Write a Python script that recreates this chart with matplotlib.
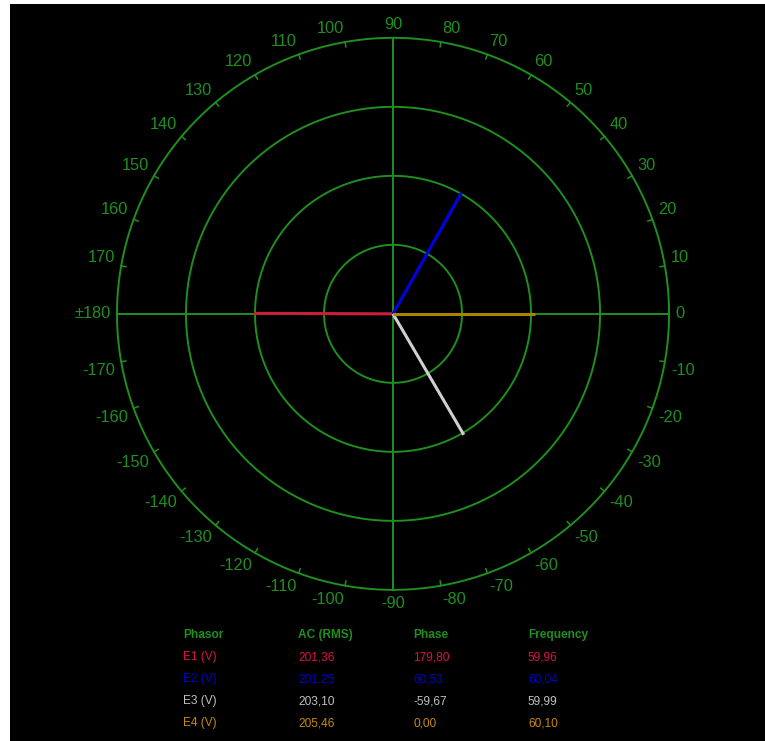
import matplotlib.pyplot as plt
import numpy as np

plt.rcParams['font.family'] = ['Liberation Sans', 'DejaVu Sans']

# data
phasors = ['E1 (V)', 'E2 (V)', 'E3 (V)', 'E4 (V)']
ac_rms = [201.36, 201.25, 203.10, 205.46]
phase = [179.80, 60.53, -59.67, 0.00]
frequency = [59.96, 60.04, 59.99, 60.10]
line_colors = ['#c8203c', '#0000e6', '#d0d0d0', '#a88400']
text_colors = ['#dc143c', '#0000cd', '#c0c0c0', '#c88a00']
rings = [100, 200, 300, 400]
angle_ticks = list(range(-170, 181, 10))
headers = ['Phasor', 'AC (RMS)', 'Phase', 'Frequency']

green = '#1f8f1f'
W, H = 765, 741

fig = plt.figure(figsize=(W / 100, H / 100), dpi=100, facecolor='white')
ax = fig.add_axes([10 / W, 0, 755 / W, 737 / H])
ax.set_facecolor('black')
ax.set_xlim(-555, 539)
ax.set_ylim(-619, 449)
ax.set_xticks([])
ax.set_yticks([])
for sp in ax.spines.values():
    sp.set_visible(False)

R = rings[-1]
t = np.linspace(0, 2 * np.pi, 400)
for r in rings:
    ax.plot(r * np.cos(t), r * np.sin(t), color=green, lw=1.4, zorder=2)
ax.plot([-R, R], [0, 0], color=green, lw=1.4, zorder=2)
ax.plot([0, 0], [-R, R], color=green, lw=1.4, zorder=2)

# small tick marks and angle labels
for a in angle_ticks:
    th = np.radians(a)
    c, s = np.cos(th), np.sin(th)
    ax.plot([R * c, (R - 7) * c], [R * s, (R - 7) * s], color=green, lw=1.1, zorder=2)
    lbl = '±180' if a == 180 else str(a)
    ha = 'left' if c > 0.1 else ('right' if c < -0.1 else 'center')
    va = 'bottom' if s > 0.1 else ('top' if s < -0.1 else 'center')
    ax.text(409 * c, 409 * s, lbl, color=green, fontsize=11.8, ha=ha, va=va)

# phasors
for mag, ph, col in zip(ac_rms, phase, line_colors):
    th = np.radians(ph)
    ax.plot([0, mag * np.cos(th)], [0, mag * np.sin(th)], color=col, lw=2.2,
            zorder=3, solid_capstyle='butt')

# table
col_x = [183, 298, 413, 528]
row_y = [635, 657, 679, 701, 723]
for x, h in zip(col_x, headers):
    fig.text(x / W, 1 - row_y[0] / H, h, color=green, fontsize=8.6,
             fontweight='bold', ha='left', va='center')
for i in range(len(phasors)):
    vals = [phasors[i], f"{ac_rms[i]:.2f}".replace('.', ','),
            f"{phase[i]:.2f}".replace('.', ','),
            f"{frequency[i]:.2f}".replace('.', ',')]
    for x, v in zip(col_x, vals):
        fig.text(x / W, 1 - row_y[i + 1] / H, v, color=text_colors[i],
                 fontsize=8.6, ha='left', va='center')

fig.savefig('out.png', dpi=100, facecolor='white')
